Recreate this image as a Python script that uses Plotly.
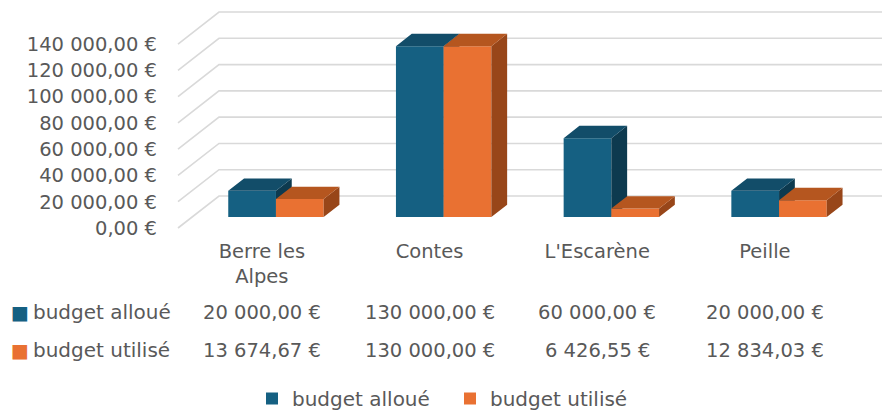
import plotly.graph_objects as go

# ---------------- data ----------------
categories = ["Berre les Alpes", "Contes", "L'Escarène", "Peille"]
category_ticktext = ["Berre les<br>Alpes", "Contes", "L'Escarène", "Peille"]
series_names = ["budget alloué", "budget utilisé"]
budget_alloue = [20000.00, 130000.00, 60000.00, 20000.00]
budget_utilise = [13674.67, 130000.00, 6426.55, 12834.03]
y_ticks = [0, 20000, 40000, 60000, 80000, 100000, 120000, 140000]


def eur(v):
    s = f"{v:,.2f}"
    s = s.replace(",", " ").replace(".", ",")
    return s + " €"


# ---------------- geometry / style ----------------
W_PX, H_PX = 882, 418
PX_X = 167.7            # pixels per category unit
PX_Y = 760.9            # value units per pixel
M_L, M_T, M_B = 170, 0, 186
plot_w = W_PX - M_L
plot_h = H_PX - M_T - M_B
x0 = -0.5 - 8 / PX_X
x_range = [x0, x0 + plot_w / PX_X]
y_range = [-4 * PX_Y, (plot_h - 4) * PX_Y]

DX = 41 / PX_X          # full depth offset, category units
DY = 32 * PX_Y          # full depth offset, value units
F0 = 0.344              # depth fraction of bar front faces
FD = 0.385              # depth of the bars (fraction)
BW = 47.7 / PX_X        # width of one bar
BASE = F0 * DY

FONT = "DejaVu Sans"
FS = 19.5
FS_HEAD = 20
TXT = "#595959"
GRID = "#d9d9d9"

colors = {
    "front": ["#156082", "#e97132"],
    "top": ["#124d69", "#b5561f"],
    "side": ["#0d3a4f", "#984619"],
}

fig = go.Figure()

# ---------- back wall gridlines (subplot 1) ----------
gx, gy = [], []
for v in y_ticks:
    gx += [-0.5, -0.5 + DX, x_range[1] + 1, None]
    gy += [v, v + DY, v + DY, None]
fig.add_trace(go.Scatter(x=gx, y=gy, mode="lines", line=dict(color=GRID, width=1.6),
                         hoverinfo="skip", showlegend=False, xaxis="x", yaxis="y"))

# ---------- 3D bars ----------
series = [budget_alloue, budget_utilise]
for s, vals in enumerate(series):
    xa, ya = ("x2", "y2") if s == 0 else ("x3", "y3")
    left = [i + F0 * DX - BW + s * BW for i in range(len(categories))]
    right = [l + BW for l in left]
    tops = [BASE + v for v in vals]
    ddx, ddy = FD * DX, FD * DY
    sx, sy, tx, ty = [], [], [], []
    for l, r, t in zip(left, right, tops):
        sx += [r, r, r + ddx, r + ddx, r, None]
        sy += [BASE, t, t + ddy, BASE + ddy, BASE, None]
        tx += [l, r, r + ddx, l + ddx, l, None]
        ty += [t, t, t + ddy, t + ddy, t, None]
    fig.add_trace(go.Bar(
        x=[(l + r) / 2 for l, r in zip(left, right)], y=vals, base=[BASE] * len(vals),
        width=BW, name=series_names[s], marker=dict(color=colors["front"][s], line=dict(width=0)),
        hoverinfo="skip", xaxis=xa, yaxis=ya, showlegend=True))
    fig.add_trace(go.Scatter(x=sx, y=sy, mode="lines", fill="toself", line=dict(width=0),
                             fillcolor=colors["side"][s], hoverinfo="skip",
                             showlegend=False, xaxis=xa, yaxis=ya))
    fig.add_trace(go.Scatter(x=tx, y=ty, mode="lines", fill="toself", line=dict(width=0),
                             fillcolor=colors["top"][s], hoverinfo="skip",
                             showlegend=False, xaxis=xa, yaxis=ya))

# ---------- data table ----------
def py(px):
    return (plot_h - (px - M_T)) / plot_h


row_y = [py(312), py(350)]
for s, vals in enumerate(series):
    fig.add_annotation(
        x=(9 - M_L) / plot_w, xref="paper", y=row_y[s], yref="paper",
        xanchor="left", yanchor="middle", showarrow=False,
        text=f"<span style='color:{colors['front'][s]};font-size:19px'>■</span>\u2009{series_names[s]}",
        font=dict(family=FONT, size=FS_HEAD, color=TXT))
    for i, v in enumerate(vals):
        fig.add_annotation(
            x=i, xref="x", y=row_y[s], yref="paper", xanchor="center", yanchor="middle",
            showarrow=False, text=eur(v), font=dict(family=FONT, size=FS, color=TXT))

hidden = dict(visible=False, showgrid=False, zeroline=False, fixedrange=True, automargin=False)
fig.update_layout(
    width=W_PX, height=H_PX,
    margin=dict(l=M_L, r=0, t=M_T, b=M_B, autoexpand=False),
    paper_bgcolor="white", plot_bgcolor="white",
    barmode="overlay",
    font=dict(family=FONT, size=FS, color=TXT),
    xaxis=dict(range=x_range, showgrid=False, zeroline=False, showline=False,
               tickmode="array", tickvals=list(range(len(categories))),
               ticktext=category_ticktext, ticks="", ticklabelstandoff=5, automargin=False,
               tickfont=dict(family=FONT, size=FS, color=TXT), fixedrange=True),
    yaxis=dict(range=y_range, showgrid=False, zeroline=False, showline=False,
               tickmode="array", tickvals=y_ticks, ticktext=[eur(v) for v in y_ticks],
               ticks="", ticklabelstandoff=12, automargin=False,
               tickfont=dict(family=FONT, size=FS, color=TXT), fixedrange=True),
    xaxis2=dict(overlaying="x", range=x_range, **hidden),
    yaxis2=dict(overlaying="y", range=y_range, **hidden),
    xaxis3=dict(overlaying="x", range=x_range, **hidden),
    yaxis3=dict(overlaying="y", range=y_range, **hidden),
    legend=dict(orientation="h", x=(252 - M_L) / plot_w, xanchor="left",
                y=py(418), yanchor="bottom", font=dict(family=FONT, size=FS_HEAD, color=TXT),
                bgcolor="rgba(0,0,0,0)", itemwidth=30, entrywidth=153, entrywidthmode="pixels"),
    showlegend=True,
)

fig.write_html("out.html", config={"displayModeBar": False},
               post_script="document.body.style.margin='0';")
